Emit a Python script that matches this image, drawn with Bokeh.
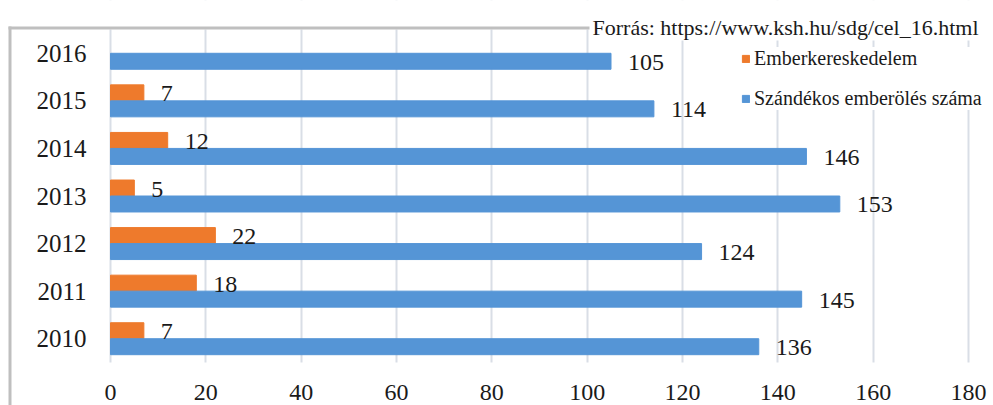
from bokeh.plotting import figure
from bokeh.models import ColumnDataSource, Range1d, Label, BoxAnnotation, FixedTicker
from bokeh.transform import dodge
from bokeh.core.properties import value
from bokeh.embed import file_html
from bokeh.resources import INLINE

years = ['2010', '2011', '2012', '2013', '2014', '2015', '2016']
trafficking = [7, 18, 22, 5, 12, 7, None]
homicide = [136, 145, 124, 153, 146, 114, 105]
x_ticks = [0, 20, 40, 60, 80, 100, 120, 140, 160, 180]
source_text = "Forrás: https://www.ksh.hu/sdg/cel_16.html"
name_traff = "Emberkereskedelem"
name_hom = "Szándékos emberölés száma"

FONT = "Liberation Serif"
ORANGE = "#EE7A2C"
BLUE = "#5595D6"
TXT = "#1a1a1a"
GRID = "#d9dee6"
BORDER = "#bfbfbf"

W, H = 993, 405
# pixel layout of the plotting area inside the canvas
PX_LEFT, PX_RIGHT, PX_TOP, PX_BOTTOM = 110, 968, 29, 362

idx = list(range(len(years)))
t_idx = [i for i, v in zip(idx, trafficking) if v is not None]
t_vals = [v for v in trafficking if v is not None]
src_t = ColumnDataSource(dict(idx=t_idx, val=t_vals, lab=[str(v) for v in t_vals]))
src_h = ColumnDataSource(dict(idx=idx, val=homicide, lab=[str(v) for v in homicide]))

xmin, xmax = x_ticks[0], x_ticks[-1]
sx = (PX_RIGHT - PX_LEFT) / (xmax - xmin)
n = len(years)
sy = (PX_BOTTOM - PX_TOP) / n
x_range = Range1d(xmin - PX_LEFT / sx, xmax + (W - PX_RIGHT) / sx)
y_range = Range1d(-0.5 - (H - PX_BOTTOM) / sy, n - 0.5 + PX_TOP / sy)

p = figure(width=W, height=H, output_backend="svg", toolbar_location=None,
           x_range=x_range, y_range=y_range,
           min_border_left=0, min_border_right=0, min_border_top=0, min_border_bottom=0)
p.outline_line_color = None
p.background_fill_color = "white"
p.border_fill_color = "white"

OFF = 0.168
BH = 0.336
p.hbar(y=dodge('idx', OFF), right='val', left=0, height=BH, source=src_t,
       color=ORANGE, legend_label=name_traff)
p.hbar(y=dodge('idx', -OFF), right='val', left=0, height=BH, source=src_h,
       color=BLUE, legend_label=name_hom)

p.text(x='val', y=dodge('idx', OFF), text='lab', source=src_t,
       x_offset=17, y_offset=1, text_baseline='middle', text_align='left',
       text_font=value(FONT), text_font_size="24px", text_color=TXT)
p.text(x='val', y=dodge('idx', -OFF), text='lab', source=src_h,
       x_offset=17, y_offset=1, text_baseline='middle', text_align='left',
       text_font=value(FONT), text_font_size="24px", text_color=TXT)

p.xaxis.ticker = FixedTicker(ticks=x_ticks)
p.xaxis.fixed_location = -0.5
p.yaxis.ticker = FixedTicker(ticks=idx)
p.yaxis.major_label_overrides = {i: y for i, y in zip(idx, years)}
p.yaxis.fixed_location = xmin
for ax in (p.xaxis[0], p.yaxis[0]):
    ax.axis_line_color = None
    ax.major_tick_line_color = None
    ax.minor_tick_line_color = None
    ax.major_label_text_font = FONT
    ax.major_label_text_color = TXT
p.xaxis.major_label_text_font_size = "24px"
p.yaxis.major_label_text_font_size = "25px"
p.xaxis.major_label_standoff = 16
p.yaxis.major_label_standoff = 18

p.xgrid.ticker = FixedTicker(ticks=x_ticks)
p.xgrid.grid_line_color = GRID
p.xgrid.grid_line_width = 2
p.ygrid.grid_line_color = None

# hide grid lines outside the category area (drawn just above the grid)
p.add_layout(BoxAnnotation(bottom=n - 0.5, fill_color="white", fill_alpha=1,
                           line_color=None, level="underlay"))
p.add_layout(BoxAnnotation(top=-0.5, fill_color="white", fill_alpha=1,
                           line_color=None, level="underlay"))
p.add_layout(BoxAnnotation(left=590, right=W, top=0, bottom=40,
                           left_units="canvas", right_units="canvas",
                           top_units="canvas", bottom_units="canvas",
                           fill_color="white", fill_alpha=1, line_color=None, level="underlay"))

# grey chart frame (top and left edges)
p.add_layout(BoxAnnotation(left=8, right=589, top=26, bottom=29,
                           left_units="canvas", right_units="canvas",
                           top_units="canvas", bottom_units="canvas",
                           fill_color=BORDER, fill_alpha=1, line_color=None))
p.add_layout(BoxAnnotation(left=8, right=11, top=26, bottom=H,
                           left_units="canvas", right_units="canvas",
                           top_units="canvas", bottom_units="canvas",
                           fill_color=BORDER, fill_alpha=1, line_color=None))

p.add_layout(Label(x=592, y=H - 27, x_units="screen", y_units="screen", text=source_text,
                   text_font=FONT, text_font_size="22px", text_color=TXT,
                   text_baseline="alphabetic", text_align="left"))

lg = p.legend[0]
lg.location = (741, H - 110)
lg.border_line_color = None
lg.background_fill_color = "white"
lg.background_fill_alpha = 1
lg.padding = 12
lg.margin = 0
lg.glyph_width = 9
lg.glyph_height = 9
lg.label_standoff = 4
lg.spacing = 17
lg.label_text_font = FONT
lg.label_text_font_size = "20px"
lg.label_text_color = TXT

open("out.html", "w").write(file_html(p, INLINE))
